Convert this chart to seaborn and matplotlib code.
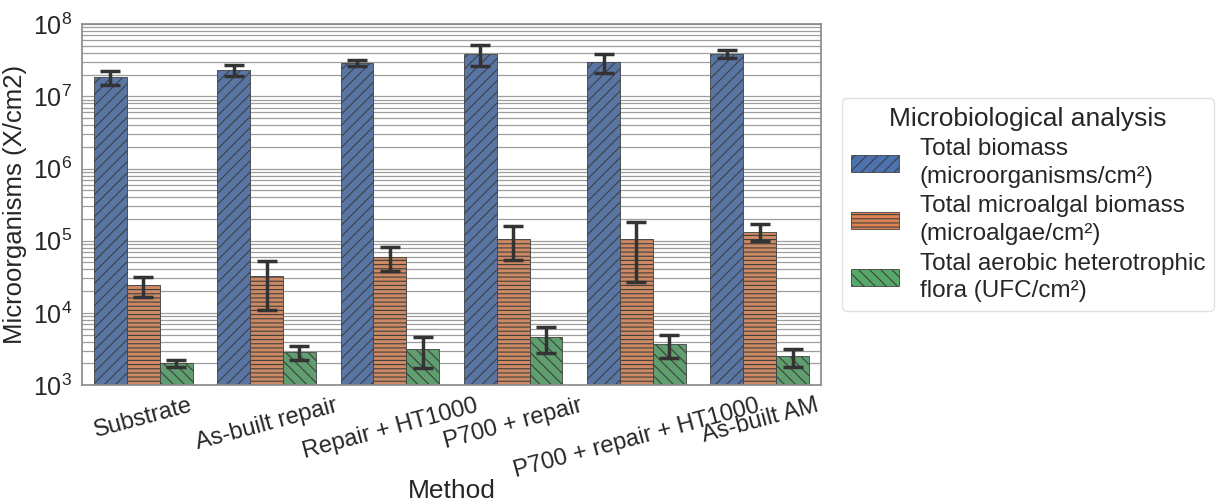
import seaborn as sns
import matplotlib.pyplot as plt
import matplotlib.patches as mpatches
import pandas as pd


methods = ['Substrate', 'As-built repair', 'Repair + HT1000', 'P700 + repair',
           'P700 + repair + HT1000', 'As-built AM']

series = ['Total biomass\n(microorganisms/cm²)',
          'Total microalgal biomass\n(microalgae/cm²)',
          'Total aerobic heterotrophic\nflora (UFC/cm²)']

# mean values
biomass = [1.86e7, 2.3e7, 2.9e7, 3.9e7, 3.0e7, 3.9e7]
algae = [2.4e4, 3.2e4, 6.0e4, 1.06e5, 1.04e5, 1.34e5]
flora = [2.0e3, 2.86e3, 3.2e3, 4.6e3, 3.7e3, 2.5e3]

# standard deviations (symmetric in linear space)
biomass_sd = [0.42e7, 0.4e7, 0.3e7, 1.25e7, 0.9e7, 0.55e7]
algae_sd = [0.75e4, 2.1e4, 2.2e4, 5.2e4, 7.7e4, 3.6e4]
flora_sd = [0.2e3, 0.65e3, 1.5e3, 1.8e3, 1.3e3, 0.7e3]


def build_table():
    """Long-form table for seaborn"""
    rows = []
    for name, vals, sds in zip(series, [biomass, algae, flora], [biomass_sd, algae_sd, flora_sd]):
        for m, v, s in zip(methods, vals, sds):
            rows.append({'Method': m, 'analysis': name, 'value': v, 'sd': s})
    return pd.DataFrame(rows)


df = build_table()

sns.set_theme(style='whitegrid')
plt.rcParams['font.family'] = ['Liberation Sans', 'DejaVu Sans']
plt.rcParams['hatch.linewidth'] = 0.8

fig = plt.figure(figsize=(12.17, 5.04), dpi=100)
ax = fig.add_axes([0.067, 0.236, 0.608, 0.716])

sns.barplot(data=df, x='Method', y='value', hue='analysis', order=methods, hue_order=series,
            palette='deep', errorbar=None, edgecolor='0.25', linewidth=0.6, ax=ax, legend=False)
ax.set_yscale('log')

hatches = ['///', '----', '\\\\\\']
colors = sns.color_palette('deep', 3)
handles = []
for container, hatch, name, c in zip(ax.containers, hatches, series, colors):
    sub = df[df.analysis == name].set_index('Method').loc[methods]
    xs = [p.get_x() + p.get_width() / 2 for p in container.patches]
    for p in container.patches:
        p.set_hatch(hatch)
    ax.errorbar(xs, sub['value'], yerr=sub['sd'], fmt='none', ecolor='#333333',
                elinewidth=2.5, capsize=7, capthick=2.5, zorder=5)
    handles.append(mpatches.Patch(facecolor=c, edgecolor='0.25', linewidth=0.6, hatch=hatch, label=name))

ax.set_xlim(-0.5, len(methods) - 0.5)
ax.set_ylim(1e3, 1e8)

ax.grid(False, axis='x')
ax.grid(True, which='both', axis='y', color='0.62', linewidth=0.9)
for s in ax.spines.values():
    s.set_color('0.55')

ax.tick_params(axis='y', labelsize=18, pad=1)
ax.tick_params(axis='x', labelsize=17, pad=1)
plt.xticks(rotation=15)
ax.set_xlabel('Method', fontsize=19, labelpad=-2)
ax.set_ylabel('Microorganisms (X/cm2)', fontsize=18.5, labelpad=4)

leg = ax.legend(handles=handles, title='Microbiological analysis', loc='center left',
                bbox_to_anchor=(1.028, 0.5), borderaxespad=0, fontsize=17.5, title_fontsize=19,
                handlelength=2.0, handleheight=0.7, labelspacing=0.3, borderpad=0.35,
                handletextpad=0.85, frameon=True)
for t in leg.get_texts():
    t.set_linespacing(1.35)
leg.get_frame().set_edgecolor('0.85')

fig.savefig('out.png', dpi=100)
